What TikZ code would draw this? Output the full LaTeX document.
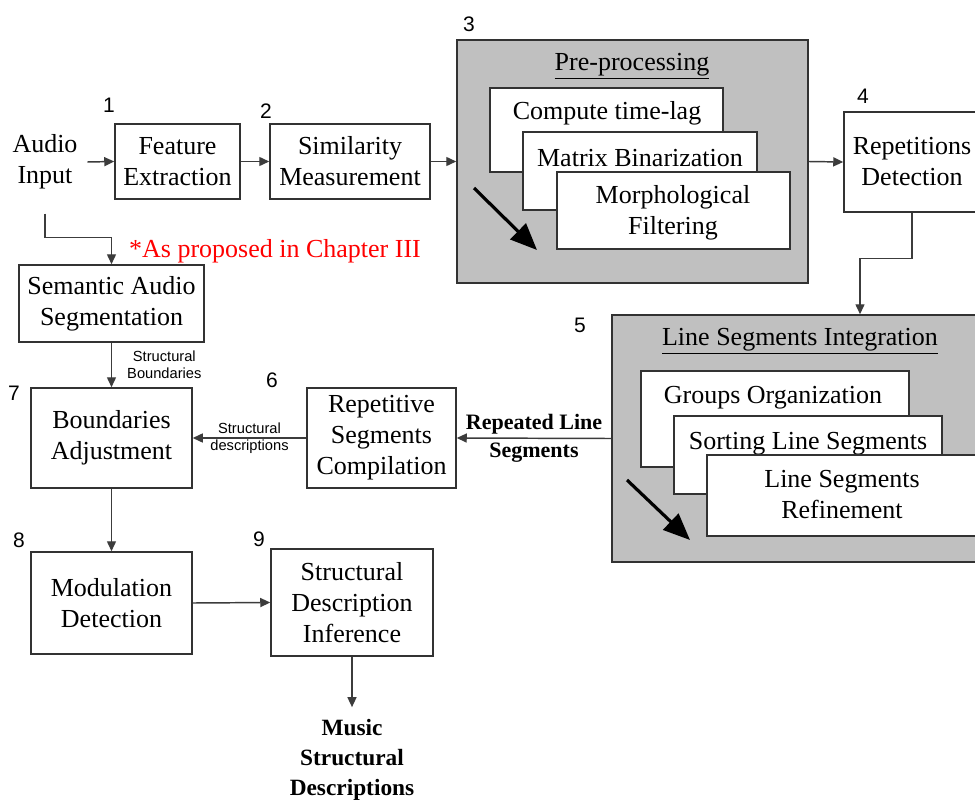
\documentclass[tikz,border=0pt]{standalone}
\usepackage{fontspec}
\setmainfont{Liberation Serif}
\setsansfont{Liberation Sans}
\usetikzlibrary{arrows.meta}
\newlength\pxu
\setlength\pxu{0.75pt}
\definecolor{panelgray}{RGB}{192,192,192}
\definecolor{edgegray}{RGB}{50,50,50}
\definecolor{wiregray}{RGB}{60,60,60}
\begin{document}
\begin{tikzpicture}[x=0.75pt, y=-0.75pt,
  maintext/.style={font=\fontsize{19.5}{23.25}\selectfont, align=center},
  blk/.style={draw=edgegray, line width=1.5\pxu, fill=white, inner sep=0pt, maintext},
  panel/.style={draw=edgegray, line width=1.5\pxu, fill=panelgray, inner sep=0pt},
  sub/.style={draw=edgegray, line width=1.5\pxu, fill=white, inner sep=0pt},
  num/.style={font=\sffamily\fontsize{15.75}{18}\selectfont, inner sep=0pt},
  small/.style={font=\sffamily\fontsize{11}{12.75}\selectfont, align=center, inner sep=2\pxu},
  boldlab/.style={font=\bfseries\fontsize{16.5}{19.5}\selectfont, align=center, inner sep=0pt},
  wire/.style={draw=wiregray, line width=1.1pt, -{Triangle[length=7.5pt,width=6.75pt]}},
  flow/.style={draw=black, line width=2.4pt, -{Triangle[length=20pt,width=16.5pt]}}]

\useasboundingbox[fill=white] (0,0) rectangle (975,803);

% ---- top row ----
\node[maintext, inner xsep=9.5\pxu, inner ysep=24\pxu] (ai) at (45,162) {Audio\\Input};
\node[blk, minimum width=125\pxu, minimum height=75\pxu] (fe) at (177.5,161.5) {Feature\\Extraction};
\node[blk, minimum width=160\pxu, minimum height=75\pxu] (sm) at (350,161.5) {Similarity\\Measurement};

% pre-processing panel
\node[panel, minimum width=351\pxu, minimum height=243\pxu] (pre) at (632.5,161.5) {};
\node[maintext] (pretitle) at (632,66) {\underline{Pre-processing}};
\node[sub, minimum width=233\pxu, minimum height=84\pxu] (pc1) at (606.5,130) {};
\node[maintext] (pc1t) at (607,113) {Compute time-lag};
\node[sub, minimum width=234\pxu, minimum height=78\pxu] (pc2) at (640,171) {};
\node[maintext] (pc2t) at (640,158) {Matrix Binarization};
\node[sub, minimum width=233\pxu, minimum height=77\pxu] (pc3) at (673.5,210.5) {};
\node[maintext] (pc3t) at (673,213) {Morphological\\Filtering};
\coordinate (preA) at (474,188);
\coordinate (preB) at (537,250);
\draw[flow] (preA) -- (preB);

\node[blk, minimum width=136\pxu, minimum height=100\pxu] (rd) at (912,162) {Repetitions\\Detection};

% line segments integration panel
\node[panel, minimum width=376\pxu, minimum height=247\pxu] (lsi) at (800,438.5) {};
\node[maintext] (lsititle) at (800,341) {\underline{Line Segments Integration}};
\node[sub, minimum width=268\pxu, minimum height=96\pxu] (ls1) at (775,419) {};
\node[maintext] (ls1t) at (773,398) {Groups Organization};
\node[sub, minimum width=268\pxu, minimum height=78\pxu] (ls2) at (808,455) {};
\node[maintext] (ls2t) at (808,444) {Sorting Line Segments};
\node[sub, minimum width=273\pxu, minimum height=81\pxu] (ls3) at (843.5,495.5) {};
\node[maintext] (ls3t) at (842,495) {Line Segments\\Refinement};
\coordinate (lsiA) at (627,480);
\coordinate (lsiB) at (690,540);
\draw[flow] (lsiA) -- (lsiB);

% ---- middle and bottom ----
\node[blk, minimum width=149\pxu, minimum height=100\pxu] (rsc) at (381.5,438) {Repetitive\\Segments\\Compilation};
\node[blk, minimum width=161\pxu, minimum height=100\pxu] (ba) at (111.5,438) {Boundaries\\Adjustment};
\node[blk, minimum width=185\pxu, minimum height=77\pxu] (sas) at (111.5,303.5) {Semantic Audio\\Segmentation};
\node[blk, minimum width=161\pxu, minimum height=102\pxu] (md) at (111.5,603) {Modulation\\Detection};
\node[blk, minimum width=162\pxu, minimum height=107\pxu] (sdi) at (352,602.5) {Structural\\Description\\Inference};
\node[font=\bfseries\fontsize{17.5}{22.5}\selectfont, align=center, inner ysep=12\pxu, inner xsep=8\pxu] (msd) at (352,760) {Music\\Structural\\Descriptions};

\node[maintext, text=red, inner sep=0pt] (note) at (275,251) {*As proposed in Chapter III};

% step numbers
\node[num] (n1) at (109,105) {1};
\node[num] (n2) at (266,111) {2};
\node[num] (n3) at (469,24) {3};
\node[num] (n4) at (863,96) {4};
\node[num] (n5) at (580,325) {5};
\node[num] (n6) at (272,380) {6};
\node[num] (n7) at (14,393) {7};
\node[num] (n8) at (19,540) {8};
\node[num] (n9) at (259,539) {9};

% ---- connectors ----
\draw[wire] (ai.east) -- (fe.west);
\draw[wire] (fe.east) -- (sm.west);
\draw[wire] (sm.east) -- (pre.west);
\draw[wire] (pre.east) -- (rd.west);
\draw[wire] (rd.south) -- ++(0,46) -| ([xshift=60\pxu]lsi.north);
\draw[wire] (lsi.west) -- (rsc.east)
  node[boldlab, midway] (rls) {Repeated Line\\[1.5pt]Segments};
\draw[wire] (rsc.west) -- (ba.east)
  node[small, midway] (sdl) {Structural\\descriptions};
\draw[wire] (ai.south) -- ++(0,24) -| (sas.north);
\draw[wire] (sas.south) -- (ba.north)
  node[small, midway, anchor=west, xshift=13\pxu] (sbl) {Structural\\Boundaries};
\draw[wire] (ba.south) -- (md.north);
\draw[wire] (md.east) -- (sdi.west);
\draw[wire] (sdi.south) -- (msd.north);
\end{tikzpicture}
\end{document}
